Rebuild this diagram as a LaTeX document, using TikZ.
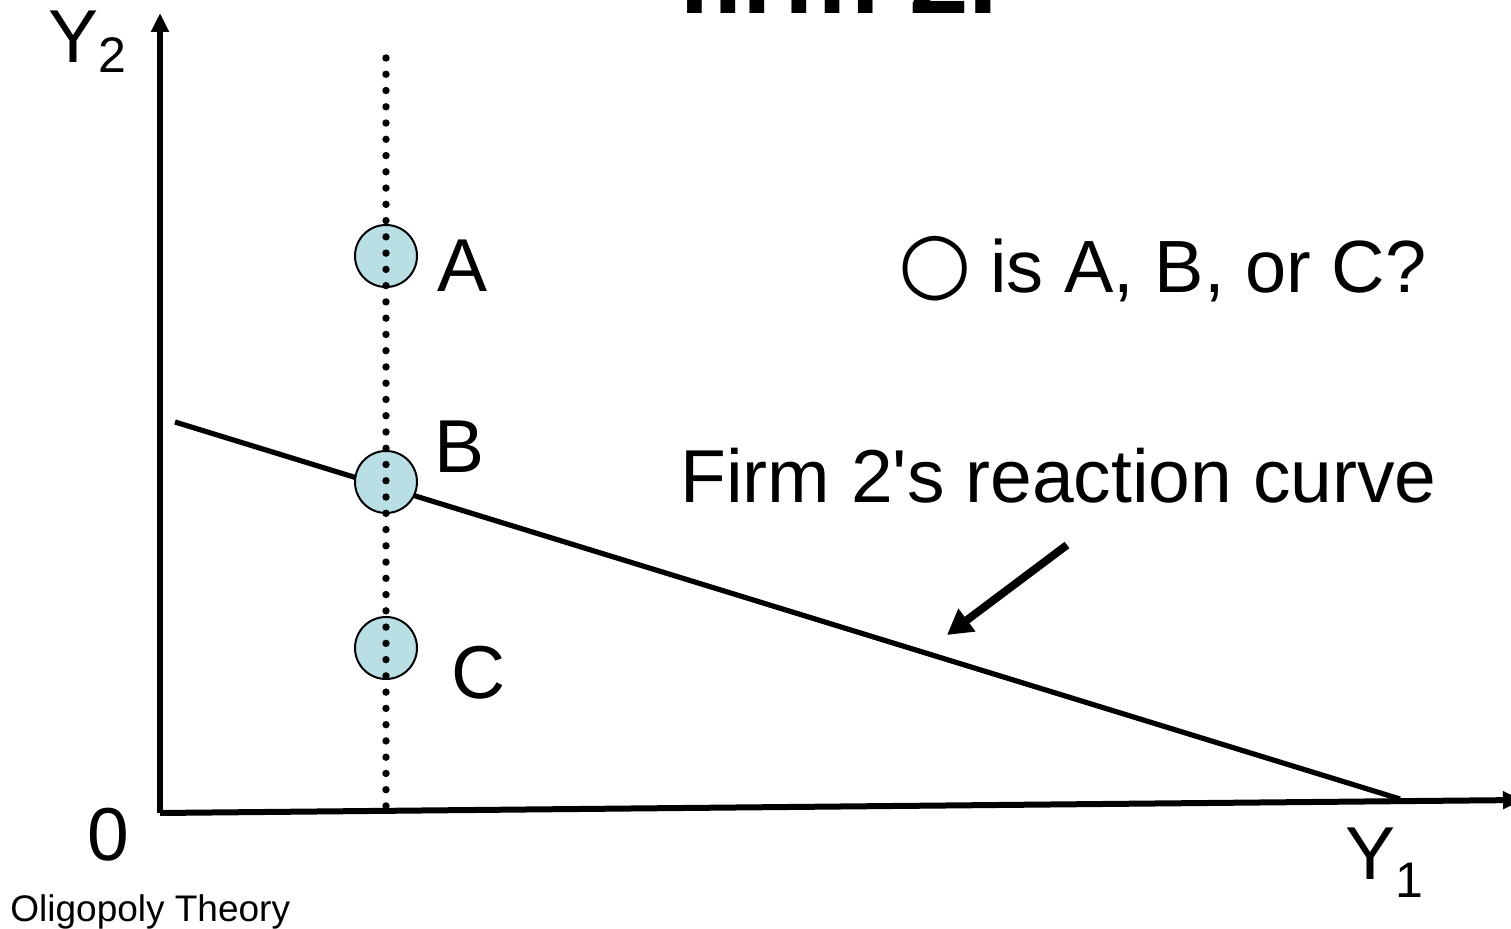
\documentclass[tikz,border=0pt]{standalone}
\usepackage{fontspec}
\setmainfont{Liberation Sans}[Ligatures=TeXOff]
\newfontfamily\symfont{DejaVu Sans}
\usetikzlibrary{arrows.meta}
\definecolor{ptfill}{RGB}{185,223,228}
\begin{document}
\begin{tikzpicture}[x=0.5pt,y=-0.5pt,
  lbl/.style={inner sep=0pt, anchor=base west, font=\fontsize{37.5pt}{40pt}\selectfont},
  axis/.style={line width=3pt, -{Triangle[length=9.5pt,width=8.5pt]}},
  pt/.style={circle, draw=black, line width=1pt, fill=ptfill, minimum size=31pt, inner sep=0pt},
  dotline/.style={line width=3.7pt, line cap=round, dash pattern=on 0pt off 8.13pt},
  pointer/.style={line width=4pt, -{Triangle[length=12.5pt,width=13.5pt]}}
]
\useasboundingbox (0,0) rectangle (1511,929);
\clip (0,0) rectangle (1511,929);
\node[inner sep=0pt, anchor=base west, font=\fontsize{53.5pt}{54pt}\selectfont\bfseries] (title) at (677,14) {firm 2.};
\coordinate (O) at (160,813);
\coordinate (ytop) at (160,13);
\coordinate (xend) at (1522,800);
\draw[axis] (O) -- (ytop);
\draw[axis] (O) -- (xend);
\coordinate (r0) at (175,422);
\coordinate (r1) at (1400,799);
\draw[line width=2.6pt] (r0) -- (r1);
\node[pt] (A) at (386,256) {};
\node[pt] (B) at (386,482) {};
\node[pt] (C) at (386,648) {};
\coordinate (d0) at (386,58);
\coordinate (d1) at (386,806);
\draw[dotline] (d0) -- (d1);
\node[lbl] (lA) at (437,292) {A};
\node[lbl] (lB) at (434,473) {B};
\node[lbl] (lC) at (451,699) {C};
\node[inner sep=0pt, anchor=base, font=\symfont\fontsize{42pt}{42pt}\selectfont] (circ) at (935,291) {○};
\node[lbl, font=\fontsize{37pt}{40pt}\selectfont] (q) at (990,293) {is A, B, or C?};
\node[lbl] (rc) at (680,503) {Firm 2's reaction curve};
\coordinate (a0) at (1067,545);
\coordinate (a1) at (947,635);
\draw[pointer] (a0) -- (a1);
\node[lbl] (y2) at (48,63) {Y\raisebox{-5pt}{\fontsize{25pt}{25pt}\selectfont 2}};
\node[lbl] (zero) at (87,861) {0};
\node[lbl] (y1) at (1345,880) {Y\raisebox{-9pt}{\fontsize{25pt}{25pt}\selectfont 1}};
\node[inner sep=0pt, anchor=base west, font=\fontsize{18.5pt}{20pt}\selectfont] (foot) at (10,922) {Oligopoly Theory};
\end{tikzpicture}
\end{document}
